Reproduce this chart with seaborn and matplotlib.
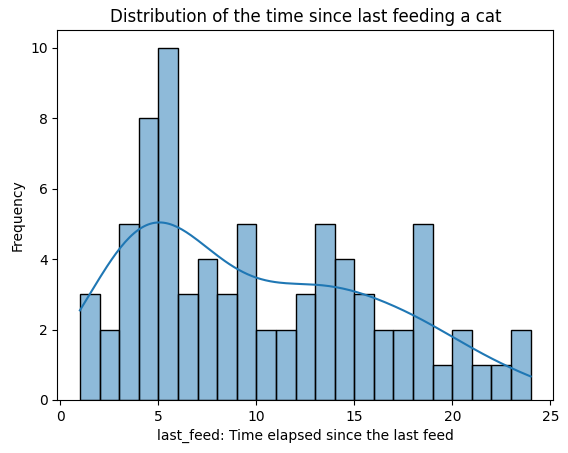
import numpy as np
import pandas as pd
import seaborn as sns
import matplotlib.pyplot as plt

# hours since last feed (integer hours) and how many cats at each value
feed_hours = list(range(1, 25))
feed_counts = [3, 2, 5, 8, 10, 3, 4, 3, 5, 2, 2, 3, 5, 4, 3, 2, 2, 5, 1, 2, 1, 1, 1, 1]

df = pd.DataFrame({'last_feed': np.repeat(feed_hours, feed_counts)})

fig, ax = plt.subplots(figsize=(5.68, 4.53), dpi=100)
sns.histplot(data=df, x='last_feed', bins=23, kde=True, ax=ax)
ax.set_title('Distribution of the time since last feeding a cat')
ax.set_xlabel('last_feed: Time elapsed since the last feed')
ax.set_ylabel('Frequency')
fig.subplots_adjust(left=0.101, right=0.974, top=0.934, bottom=0.117)
plt.savefig('out.png', dpi=100)
